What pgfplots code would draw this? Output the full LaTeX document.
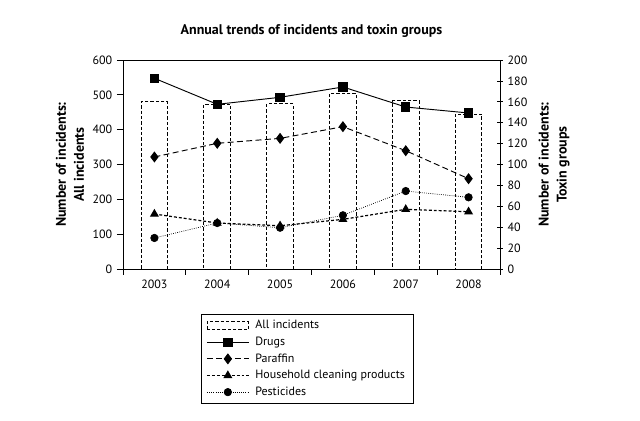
\documentclass[border=0pt]{standalone}
\usepackage{pgfplots}
\pgfplotsset{compat=1.18}
\usepackage{fontspec}
\setmainfont{PT Sans}
\begin{document}
\begin{tikzpicture}
\pgfplotsset{
  base/.style={
    scale only axis, width=282.75pt, height=156.75pt,
    at={(0pt,0pt)}, anchor=south west,
    xmin=-0.5, xmax=5.5,
    /pgf/number format/assume math mode=true,
    tick label style={font=\fontsize{9}{10}\selectfont},
    tick style={black, line width=0.5pt},
    major tick length=4.5pt,
    axis line style={black, line width=0.6pt},
  }
}
\begin{axis}[base,
  ymin=0, ymax=600, ytick={0,100,...,600},
  xtick={-0.5,0.5,...,5.5},
  xticklabels={2003,2004,2005,2006,2007,2008},
  x tick label as interval,
  tick align=outside, xtick pos=bottom, ytick pos=left,
  title={Annual trends of incidents and toxin groups},
  title style={font=\bfseries\fontsize{10.5}{12}\selectfont, at={(axis description cs:0.5,1)}, anchor=base, yshift=13.5pt},
  ylabel={Number of incidents:\\All incidents},
  ylabel style={font=\bfseries\fontsize{10.5}{13.5}\selectfont, align=center, at={(axis description cs:-0.1406,0.5)}, anchor=center},
  ybar, bar width=20pt,
]
\addplot[draw=black, fill=none, line width=0.7pt, dash pattern=on 2.5pt off 1.5pt]
  coordinates {(0,480) (1,473) (2,474) (3,504) (4,483) (5,445)};
\end{axis}
\begin{axis}[base,
  ymin=0, ymax=200, ytick={0,20,...,200},
  axis x line=none, axis y line*=right,
  ytick align=center,
  ylabel={Number of incidents:\\Toxin groups},
  ylabel style={font=\bfseries\fontsize{10.5}{13.5}\selectfont, align=center, at={(axis description cs:1.1437,0.5)}, anchor=center, rotate=0},
  legend style={at={(axis description cs:0.206,-0.215)}, anchor=north west,
    draw=black, line width=0.6pt, font=\fontsize{9}{10}\selectfont,
    row sep=0.6pt, inner xsep=4pt, inner ysep=2.5pt, solid,
    /tikz/every odd column/.append style={column sep=2.5pt}},
  legend cell align=left,
  every axis plot/.append style={line width=0.7pt, black},
  legend image code/.code={%
    \draw[mark repeat=2,mark phase=2] plot coordinates {(0cm,0cm) (0.55cm,0cm) (1.1cm,0cm)};},
]
\addlegendimage{legend image code/.code={\draw[black, line width=0.7pt, dash pattern=on 2.5pt off 1.5pt] (0cm,-0.1cm) rectangle (1.1cm,0.1cm);}}
\addlegendentry{All incidents}
\addplot[solid, mark=square*, mark size=3.1pt, mark options={solid}]
  coordinates {(0,182.5) (1,157.6) (2,164.3) (3,174.2) (4,155) (5,149.3)};
\addlegendentry{Drugs}
\addplot[dash pattern=on 4.5pt off 2.5pt, mark=diamond*, mark size=3.6pt, mark options={solid}]
  coordinates {(0,107.2) (1,120.3) (2,125) (3,136.2) (4,113.2) (5,86.4)};
\addlegendentry{Paraffin}
\addplot[dash pattern=on 2.2pt off 1.5pt, line width=0.9pt, mark=triangle*, mark size=3pt, mark options={solid}]
  coordinates {(0,52.6) (1,44) (2,41.4) (3,47.5) (4,57.1) (5,54.8)};
\addlegendentry{Household cleaning products}
\addplot[dash pattern=on 0.6pt off 1pt, line width=0.5pt, mark=*, mark size=2.8pt, mark options={solid}]
  coordinates {(0,29.7) (1,44) (2,39.5) (3,51.4) (4,74.6) (5,68.6)};
\addlegendentry{Pesticides}
\end{axis}
\pgfresetboundingbox
\path[use as bounding box] (-92.25pt,-114pt) rectangle (387.75pt,201.75pt);
\end{tikzpicture}
\end{document}
